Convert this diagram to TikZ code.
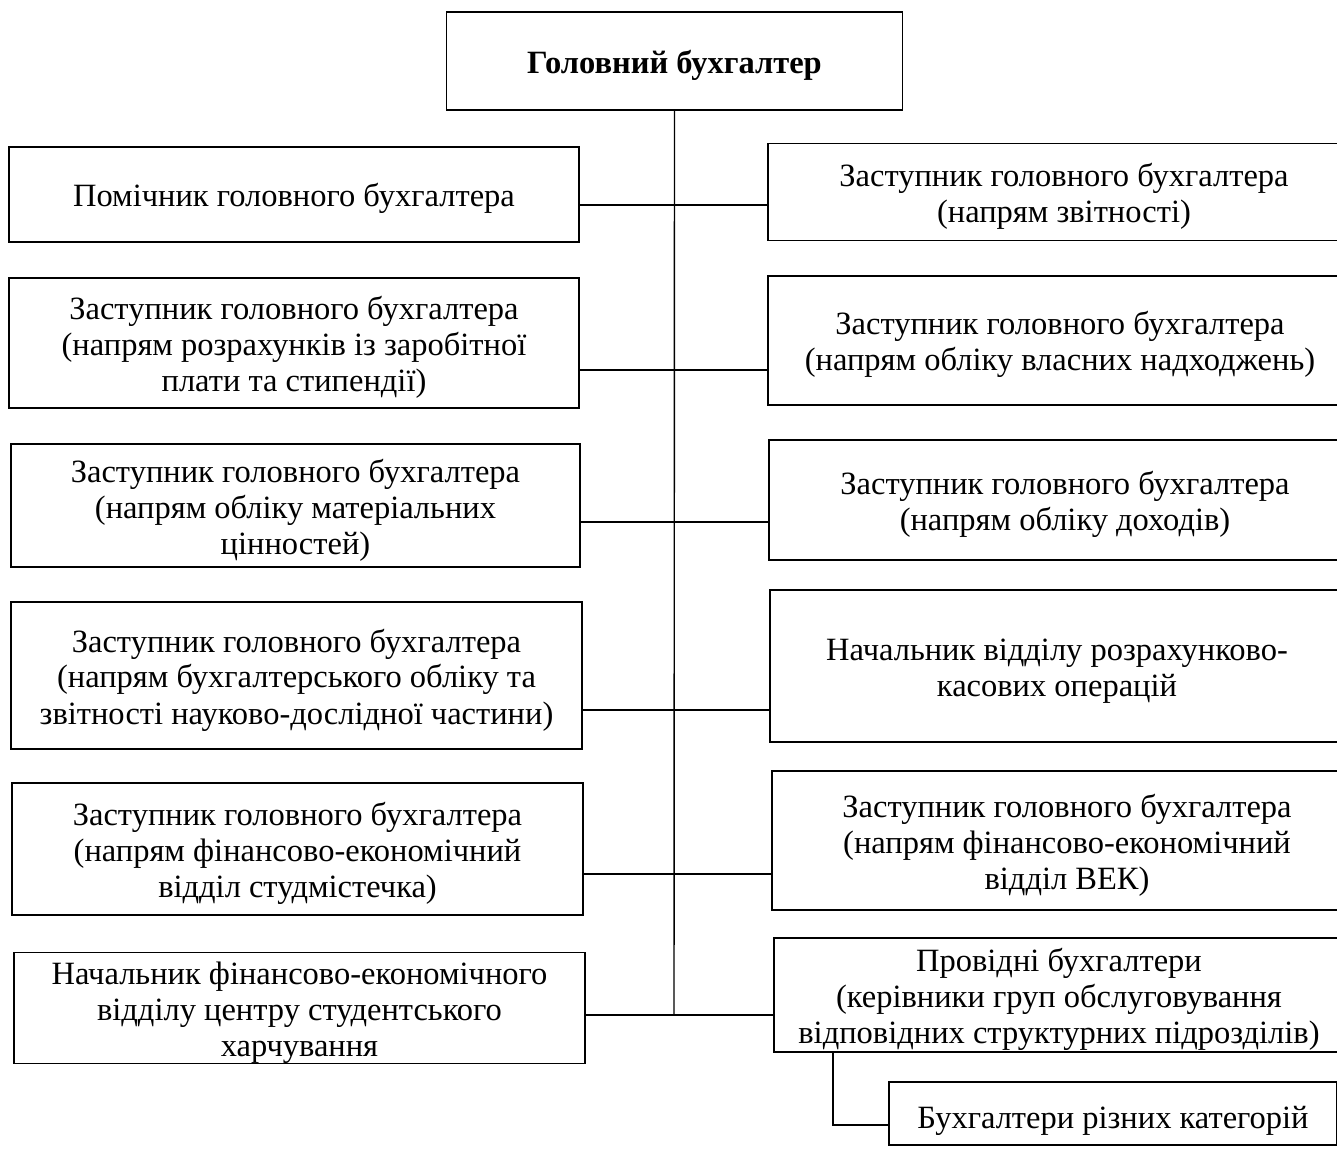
\documentclass[tikz,border=0pt]{standalone}
\usepackage{fontspec}
\setmainfont{Liberation Serif}
\newcommand\myup{\rule{0pt}{32pt}}
\begin{document}
\begin{tikzpicture}[x=1pt,y=-1pt,
  box/.style={draw, line width=1.4pt, rectangle, inner sep=0pt, align=center,
    font=\fontsize{32.5}{36}\selectfont},
  conn/.style={line width=1.4pt}]
\useasboundingbox (0,0) rectangle (1337,1158);
\fill[white] (0,0) rectangle (1337,1158);
\clip (0,0) rectangle (1337,1158);
% top
\node[box, minimum width=456pt, minimum height=98pt, font=\fontsize{32.5}{36}\selectfont\bfseries] (top) at (674.5,61) {\myup Головний бухгалтер};
% left column
\node[box, minimum width=570pt, minimum height=95pt] (l1) at (294,194.5) {\myup Помічник головного бухгалтера};
\node[box, minimum width=570pt, minimum height=130pt] (l2) at (294,343) {\myup Заступник головного бухгалтера\\(напрям розрахунків із заробітної\\плати та стипендії)};
\node[box, minimum width=569pt, minimum height=123pt] (l3) at (295.5,505.5) {\myup Заступник головного бухгалтера\\(напрям обліку матеріальних\\цінностей)};
\node[box, minimum width=571pt, minimum height=147pt] (l4) at (296.5,675.5) {\myup Заступник головного бухгалтера\\(напрям бухгалтерського обліку та\\звітності науково-дослідної частини)};
\node[box, minimum width=571pt, minimum height=132pt] (l5) at (297.5,849) {\myup Заступник головного бухгалтера\\(напрям фінансово-економічний\\відділ студмістечка)};
\node[box, minimum width=571pt, minimum height=107pt] (l6) at (299.5,1008) {\myup Начальник фінансово-економічного\\відділу центру студентського\\харчування};
% right column
\node[box, minimum width=592pt, minimum height=97pt] (r1) at (1064,192) {\myup Заступник головного бухгалтера\\(напрям звітності)};
\node[box, minimum width=584pt, minimum height=129pt] (r2) at (1060,340.5) {\myup Заступник головного бухгалтера\\(напрям обліку власних надходжень)};
\node[box, minimum width=592pt, minimum height=120pt] (r3) at (1065,500) {\myup Заступник головного бухгалтера\\(напрям обліку доходів)};
\node[box, minimum width=574pt, minimum height=152pt] (r4) at (1057,666) {\myup Начальник відділу розрахунково-\\касових операцій};
\node[box, minimum width=590pt, minimum height=139pt] (r5) at (1067,840.5) {\myup Заступник головного бухгалтера\\(напрям фінансово-економічний\\відділ ВЕК)};
\node[box, minimum width=570pt, minimum height=114pt] (r6) at (1059,995) {\myup Провідні бухгалтери\\(керівники груп обслуговування\\відповідних структурних підрозділів)};
\node[box, minimum width=448pt, minimum height=63pt] (r7) at (1113,1113.5) {\rule{0pt}{36pt}Бухгалтери різних категорій};
% junctions
\coordinate (j1) at (674,205);
\coordinate (j2) at (674,370);
\coordinate (j3) at (674,522);
\coordinate (j4) at (674,710);
\coordinate (j5) at (674,874);
\coordinate (j6) at (674,1015);
\coordinate (k1) at (833,1125);
% connectors
\draw[conn] (top.south) -- (j6);
\draw[conn] (l1.east |- j1) -- (r1.west |- j1);
\draw[conn] (l2.east |- j2) -- (r2.west |- j2);
\draw[conn] (l3.east |- j3) -- (r3.west |- j3);
\draw[conn] (l4.east |- j4) -- (r4.west |- j4);
\draw[conn] (l5.east |- j5) -- (r5.west |- j5);
\draw[conn] (l6.east |- j6) -- (r6.west |- j6);
\draw[conn] (r6.south -| k1) -- (k1) -- (r7.west |- k1);
\end{tikzpicture}
\end{document}
